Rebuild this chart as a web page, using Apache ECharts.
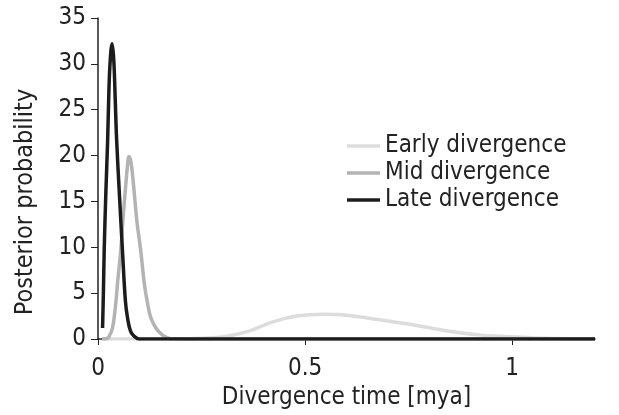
<!DOCTYPE html>
<html>
<head>
<meta charset="utf-8">
<script src="https://cdn.jsdelivr.net/npm/echarts@6/dist/echarts.min.js"></script>
<style>html,body{margin:0;padding:0;background:#fff}#c{width:619px;height:415px}</style>
</head>
<body>
<div id="c"></div>
<script>
var seriesNames = ['Early divergence', 'Mid divergence', 'Late divergence'];
var xTicks = [0, 0.5, 1];
var earlyData = [[0.01,0],[0.2,0.01],[0.25,0.08],[0.304,0.25],[0.36,0.8],[0.424,1.9],[0.48,2.5],[0.544,2.7],[0.6,2.6],[0.68,2.1],[0.76,1.55],[0.84,0.9],[0.92,0.45],[1.0,0.25],[1.08,0.08],[1.16,0.02],[1.2,0.01]];
var midData = [[0.01,0],[0.022,0.05],[0.027,0.3],[0.035,1.2],[0.042,3.5],[0.048,6.5],[0.055,9.7],[0.061,13.5],[0.066,16.2],[0.071,18.8],[0.075,19.9],[0.08,19.2],[0.087,16.2],[0.094,12.8],[0.103,9.7],[0.112,6],[0.12,3.8],[0.127,2.4],[0.137,1.4],[0.147,0.8],[0.158,0.35],[0.17,0.1],[0.19,0.02],[0.21,0],[1.2,0]];
var lateData = [[0.011,1.2],[0.013,5],[0.015,9.7],[0.019,16],[0.0233,21.7],[0.0257,26],[0.029,30],[0.034,32.2],[0.038,30.5],[0.0416,26.1],[0.045,21.7],[0.052,15.5],[0.059,9.7],[0.066,4.25],[0.071,2.4],[0.079,0.8],[0.09,0.2],[0.099,0],[1.2,0]];
var colors = ['#dcdcdc', '#b3b3b3', '#1c1c1c'];
var FONT = "'DejaVu Sans Condensed', 'DejaVu Sans', sans-serif";

var chart = echarts.init(document.getElementById('c'), null, {renderer: 'canvas'});
function mk(i, data) {
  return {
    name: seriesNames[i], type: 'line', data: data, showSymbol: false, symbol: 'none',
    smooth: 0.4,
    lineStyle: {color: colors[i], width: 3.5}, itemStyle: {color: colors[i]},
    z: 2 + i
  };
}
chart.setOption({
  animation: false,
  backgroundColor: '#fff',
  grid: {left: 98, right: 24, top: 18, bottom: 76, containLabel: false},
  legend: {
    orient: 'vertical', left: 342, top: 129, itemGap: 3,
    itemWidth: 33, itemHeight: 3.5, icon: 'rect',
    data: seriesNames,
    textStyle: {fontFamily: FONT, fontSize: 24, color: '#222'}
  },
  xAxis: {
    type: 'value', min: 0, max: 1.2,
    name: 'Divergence time [mya]', nameLocation: 'middle', nameGap: 46,
    nameTextStyle: {fontFamily: FONT, fontSize: 24, color: '#222'},
    axisLine: {lineStyle: {color: '#222', width: 1.5}},
    axisTick: {show: true, length: 6, customValues: xTicks, lineStyle: {color: '#222'}},
    axisLabel: {customValues: xTicks, margin: 18, fontFamily: FONT, fontSize: 24, color: '#222'},
    splitLine: {show: false}
  },
  yAxis: {
    type: 'value', min: 0, max: 35, interval: 5,
    name: 'Posterior probability', nameLocation: 'middle', nameGap: 60, nameRotate: 90,
    nameTextStyle: {fontFamily: FONT, fontSize: 25, color: '#222', padding: [0, 47, 0, 0]},
    axisLine: {show: true, lineStyle: {color: '#222', width: 1.5}},
    axisTick: {show: true, length: 7, lineStyle: {color: '#222'}},
    axisLabel: {margin: 12, fontFamily: FONT, fontSize: 24, color: '#222'},
    splitLine: {show: false}
  },
  series: [mk(0, earlyData), mk(1, midData), mk(2, lateData)]
});
</script>
</body>
</html>
